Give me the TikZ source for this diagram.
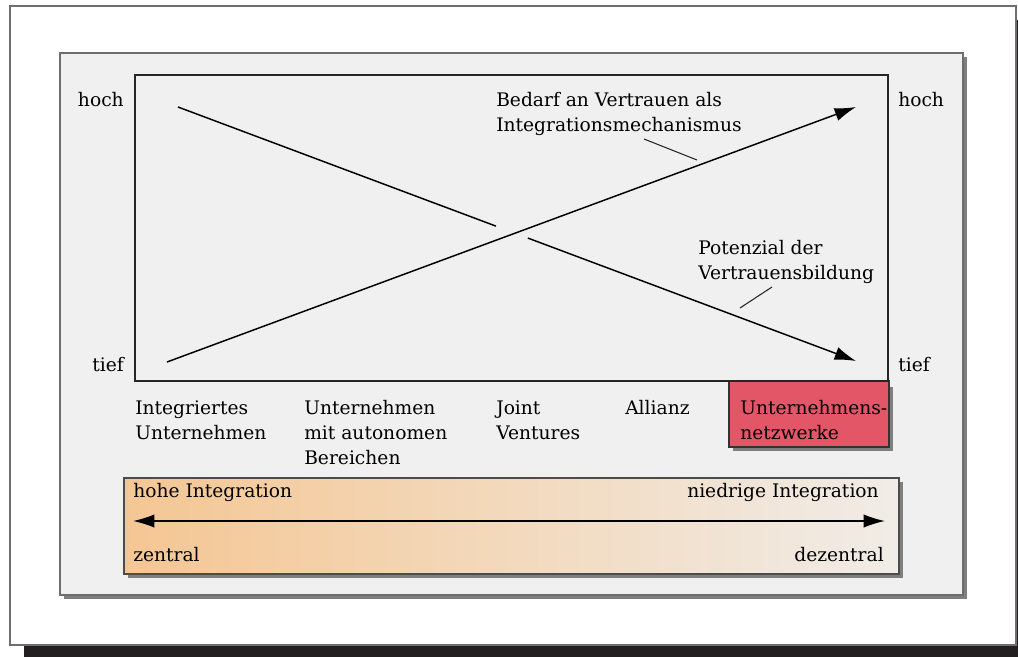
\documentclass[tikz,border=0pt]{standalone}
\usepackage{fontspec}
\setmainfont{DejaVu Serif}
\usetikzlibrary{arrows.meta,calc}

\definecolor{panelgray}{HTML}{F0F0F0}
\definecolor{netred}{HTML}{E25668}
\definecolor{barorange}{HTML}{F5C48E}
\definecolor{shadowgray}{HTML}{7F7F7F}
\definecolor{framedark}{HTML}{231F20}
\definecolor{edgegray}{HTML}{6E6E6E}

% orange fading into the panel grey
\pgfdeclarehorizontalshading{integshade}{100bp}{color(0bp)=(barorange); color(22bp)=(barorange); color(80bp)=(panelgray); color(100bp)=(panelgray)}

\tikzset{
  lbl/.style={font=\fontsize{14}{18.75}\selectfont, inner sep=0pt, align=left},
  trend/.style={line width=1.1pt, draw=black},
  tip/.style={-{Latex[length=16pt,width=10pt]}},
  callout/.style={line width=0.8pt, draw=black!85},
}

\begin{document}
\begin{tikzpicture}[x=0.75pt,y=-0.75pt]
\useasboundingbox (0,0) rectangle (1018,657);
\clip (0,0) rectangle (1018,657);

% --- outer frame with heavy shadow ---
\fill[framedark] (24,20) rectangle (1040,680);
\draw[edgegray,line width=1.2pt,fill=white] (10,6) rectangle (1016,645);

% --- grey panel ---
\fill[shadowgray] (64,57) rectangle (967,599);
\draw[edgegray,line width=1pt,fill=panelgray] (60,53) rectangle (963,595);

% --- red box for the network end ---
\fill[shadowgray] (733,387) rectangle (893,451);
\draw[black!80,line width=0.9pt,fill=netred] (729,381) rectangle (889,447);

% --- chart frame ---
\draw[black!85,line width=1.1pt] (135,75) rectangle (888,381);

% axis labels
\node[lbl,anchor=base east] (hochL) at (124,106) {hoch};
\node[lbl,anchor=base east] (tiefL) at (124,371) {tief};
\node[lbl,anchor=base west] (hochR) at (898,106) {hoch};
\node[lbl,anchor=base west] (tiefR) at (898,371) {tief};

% --- trend lines ---
\coordinate (riseA) at (167,362);
\coordinate (riseB) at (856,107);
\coordinate (fallA) at (178,107);
\coordinate (fallB) at (856,361);
\draw[trend,tip] (riseA) -- (riseB);
\draw[trend] (fallA) -- ($(fallA)!0.469!(fallB)$);
\draw[trend,tip] ($(fallA)!0.516!(fallB)$) -- (fallB);

% line labels with callouts (base = last line)
\node[lbl,anchor=base west] (bedarf) at (496,131) {Bedarf an Vertrauen als\\Integrationsmechanismus};
\node[lbl,anchor=base west] (potenzial) at (698,279) {Potenzial der\\Vertrauensbildung};
\coordinate (bedarfPt) at (697,160);
\coordinate (potPt) at (740,308);
\draw[callout] (644,139) -- (bedarfPt);
\draw[callout] (772,287) -- (potPt);

% --- organisation forms ---
\node[lbl,anchor=base west] (integ) at (135,439) {Integriertes\\Unternehmen};
\node[lbl,anchor=base west] (autonom) at (304,464) {Unternehmen\\mit autonomen\\Bereichen};
\node[lbl,anchor=base west] (joint) at (496,439) {Joint\\Ventures};
\node[lbl,anchor=base west] (allianz) at (625,414) {Allianz};
\node[lbl,anchor=base west] (netz) at (740,439) {Unternehmens-\\netzwerke};

% --- integration scale ---
\fill[shadowgray] (128,482) rectangle (903,578);
\draw[black!70,line width=0.9pt,shading=integshade] (124,478) rectangle (899,574);
\node[lbl,anchor=base west] (hohe) at (133,497) {hohe Integration};
\node[lbl,anchor=base west] (zentral) at (133,561) {zentral};
\node[lbl,anchor=base east] (niedrig) at (879,497) {niedrige Integration};
\node[lbl,anchor=base east] (dezentral) at (884,561) {dezentral};
\coordinate (scaleL) at (133,521);
\coordinate (scaleR) at (885,521);
\draw[trend,{Latex[length=16pt,width=10pt]}-{Latex[length=16pt,width=10pt]}] (scaleL) -- (scaleR);

\end{tikzpicture}
\end{document}
